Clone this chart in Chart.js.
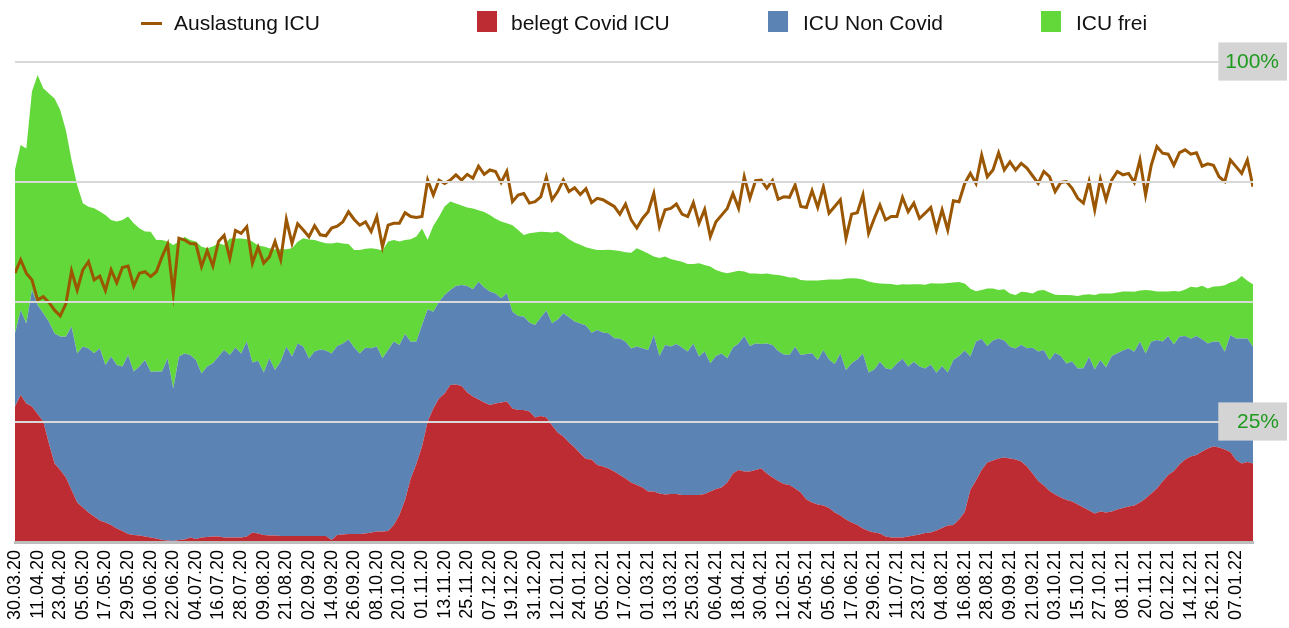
<!DOCTYPE html>
<html><head><meta charset="utf-8">
<script src="https://cdn.jsdelivr.net/npm/chart.js@4.4.1/dist/chart.umd.min.js"></script>
<style>
html,body{margin:0;padding:0;background:#fff;}
#wrap{position:relative;width:1289px;height:628px;overflow:hidden;}
canvas{position:absolute;left:0;top:0;}
.lg{position:absolute;top:11px;font-family:'Liberation Sans',Arial,Helvetica,sans-serif;font-size:21px;color:#111;white-space:nowrap;}
.bx{position:absolute;top:11px;width:20px;height:21px;}
.ln{position:absolute;top:22px;width:21px;height:3px;}
</style></head>
<body><div id="wrap"><canvas id="c" width="1289" height="628"></canvas><div id="legend"></div></div>
<script>
// one data point every 3 days, starting 30.03.20
const STEP_DAYS = 3;

const tickLabels = ['30.03.20','11.04.20','23.04.20','05.05.20','17.05.20','29.05.20','10.06.20','22.06.20','04.07.20','16.07.20','28.07.20','09.08.20','21.08.20','02.09.20','14.09.20','26.09.20','08.10.20','20.10.20','01.11.20','13.11.20','25.11.20','07.12.20','19.12.20','31.12.20','12.01.21','24.01.21','05.02.21','17.02.21','01.03.21','13.03.21','25.03.21','06.04.21','18.04.21','30.04.21','12.05.21','24.05.21','05.06.21','17.06.21','29.06.21','11.07.21','23.07.21','04.08.21','16.08.21','28.08.21','09.09.21','21.09.21','03.10.21','15.10.21','27.10.21','08.11.21','20.11.21','02.12.21','14.12.21','26.12.21','07.01.22'];
const TICK_EVERY_DAYS = 12;

const pctTickLabels = {25: '25%', 100: '100%'};

const seriesNames = ['Auslastung ICU', 'belegt Covid ICU', 'ICU Non Covid', 'ICU frei'];

// Auslastung ICU in %
const auslastung = [
56.0,58.8,56.0,54.6,50.4,51.1,49.9,48.3,47.1,49.6,56.5,52.5,56.7,58.4,54.6,55.4,52.4,56.7,54.0,57.2,57.5,53.3,56.0,56.3,55.3,56.3,59.4,62.0,51.8,63.3,62.9,62.2,62.1,57.4,60.7,57.5,62.6,63.9,
59.1,64.9,64.3,65.7,58.1,61.4,58.1,59.4,62.6,58.8,67.2,62.2,66.3,65.0,63.6,65.9,64.0,63.8,65.4,65.8,66.7,68.8,67.2,66.0,66.7,64.7,67.8,61.5,66.0,66.4,66.4,68.6,67.8,67.6,67.8,75.4,72.3,
75.4,74.7,75.4,76.5,75.4,76.6,75.8,78.3,76.6,77.5,77.2,74.9,77.2,70.9,72.3,72.6,70.6,70.9,71.9,76.0,71.3,73.0,75.4,73.0,73.8,72.4,73.6,70.7,71.6,71.3,70.6,69.9,68.3,70.4,67.1,65.4,67.4,
68.8,72.6,65.7,69.2,69.5,70.4,68.3,67.8,70.7,66.4,69.3,63.6,66.7,68.1,69.5,72.6,69.5,76.1,71.6,75.3,75.4,73.7,75.3,71.4,71.9,71.8,74.4,69.9,69.7,73.2,69.7,74.0,68.5,69.9,71.3,63.3,68.3,
68.6,72.3,64.3,67.4,70.2,67.1,67.8,67.8,71.8,68.8,70.6,67.4,68.5,69.7,65.0,69.2,65.0,71.1,70.9,74.7,76.8,74.7,80.6,76.1,77.5,81.1,77.5,79.2,77.5,78.9,77.9,76.3,74.7,77.2,76.1,73.0,74.9,
75.1,73.7,71.6,70.6,75.1,69.2,75.6,71.3,75.4,77.2,76.5,76.8,74.9,79.6,72.3,78.5,82.4,81.0,80.8,78.5,81.1,81.7,80.8,81.1,78.3,78.8,78.5,76.1,75.1,79.6,78.2,76.8,79.6,74.0];

// beds
const belegtCovid = [
677,735,693,677,640,602,493,393,360,323,260,198,172,148,127,107,98,85,68,55,40,35,32,27,23,17,10,7,5,10,13,22,15,23,25,27,27,23,
23,23,23,27,47,43,35,32,32,30,30,30,30,30,30,30,30,30,10,35,38,40,40,40,43,47,52,52,55,85,135,210,318,390,477,602,668,
718,743,785,788,780,748,727,713,698,685,693,697,702,668,660,660,652,623,630,622,582,548,527,497,472,443,415,413,385,377,367,352,335,318,298,285,272,
252,252,243,238,240,240,235,235,235,235,240,252,265,273,297,343,360,352,353,360,367,343,323,305,290,285,268,248,213,197,187,182,170,147,133,113,97,
85,68,55,48,43,27,23,23,23,27,33,37,45,47,58,70,83,85,113,150,260,307,360,397,407,418,422,418,413,403,377,343,305,282,255,238,223,
210,202,188,172,158,143,152,148,153,162,170,177,183,197,218,243,268,302,335,355,387,413,428,435,452,468,477,473,463,450,410,393,400,393];

const nonCovid = [
367,425,400,583,545,542,608,650,667,703,817,745,805,820,817,862,787,842,817,822,895,817,845,883,828,835,842,912,763,917,930,913,895,820,852,867,900,937,
912,950,920,975,850,863,812,887,828,872,947,897,963,947,888,922,933,927,933,945,955,973,933,903,928,922,925,867,905,917,850,830,683,612,608,562,483,
483,492,475,492,505,532,537,588,575,567,550,522,542,483,470,467,445,462,493,535,512,565,617,627,630,650,667,633,675,670,677,667,682,683,670,692,697,
708,783,687,747,737,750,738,717,758,692,712,642,665,670,622,630,633,678,627,633,623,650,662,650,648,650,708,687,727,747,723,778,743,743,810,747,797,
828,875,792,815,858,842,840,870,893,850,868,840,823,840,788,810,765,825,817,808,668,695,655,583,600,600,585,558,555,583,592,628,647,678,655,708,707,
683,700,680,697,768,720,758,725,777,782,787,792,768,805,725,758,742,700,695,633,640,617,588,595,562,525,525,528,488,585,608,625,618,583];

const frei = [
817,825,875,992,1150,1125,1142,1175,1133,1033,833,842,717,708,725,683,750,683,717,733,692,742,692,642,700,658,658,583,717,575,583,575,592,633,592,583,567,525,
583,545,575,512,605,577,630,550,603,562,487,542,508,542,595,558,538,537,550,517,500,477,487,517,495,500,488,538,542,508,517,470,513,525,483,347,430,
425,442,442,413,397,393,403,358,377,383,373,383,350,433,430,408,447,463,428,393,453,440,392,390,395,393,392,420,400,413,417,440,438,448,478,492,487,
483,392,490,442,438,418,428,438,397,467,433,483,430,407,425,377,363,322,363,350,350,350,352,380,392,388,347,375,367,363,398,350,400,423,370,458,425,
405,370,455,433,392,422,427,392,373,410,388,412,418,407,447,412,447,387,370,335,338,252,245,287,260,242,257,267,267,265,280,272,305,300,337,290,305,
342,332,362,367,313,372,332,370,313,303,295,283,300,255,317,257,243,250,222,267,225,233,260,243,267,275,275,278,333,262,288,312,288,313];

const COLORS = {line: '#9a5600', covid: '#bd2b33', non: '#5b84b5', frei: '#62d83a'};
const FONT = "'Liberation Sans', Arial, Helvetica, sans-serif";

const pts = arr => arr.map((v, i) => ({x: i * STEP_DAYS, y: v}));
const lastDay = (belegtCovid.length - 1) * STEP_DAYS;

Chart.defaults.font.family = FONT;

new Chart(document.getElementById('c'), {
  type: 'line',
  data: {
    datasets: [
      {label: seriesNames[0], data: pts(auslastung), yAxisID: 'yP', borderColor: COLORS.line, backgroundColor: COLORS.line,
       borderWidth: 3, pointRadius: 0, fill: false, tension: 0, order: 0},
      {label: seriesNames[1], data: pts(belegtCovid), yAxisID: 'yB', borderWidth: 0, borderColor: COLORS.covid,
       backgroundColor: COLORS.covid, pointRadius: 0, fill: 'origin', tension: 0, order: 1},
      {label: seriesNames[2], data: pts(nonCovid), yAxisID: 'yB', borderWidth: 0, borderColor: COLORS.non,
       backgroundColor: COLORS.non, pointRadius: 0, fill: '-1', tension: 0, order: 1},
      {label: seriesNames[3], data: pts(frei), yAxisID: 'yB', borderWidth: 0, borderColor: COLORS.frei,
       backgroundColor: COLORS.frei, pointRadius: 0, fill: '-1', tension: 0, order: 1}
    ]
  },
  options: {
    responsive: false,
    animation: false,
    devicePixelRatio: 1,
    layout: {padding: {top: 62, left: 15, right: 10, bottom: 0}},
    plugins: {legend: {display: false}, tooltip: {enabled: false}},
    scales: {
      x: {
        type: 'linear', min: 0, max: lastDay,
        afterBuildTicks: s => { s.ticks = tickLabels.map((_, i) => ({value: i * TICK_EVERY_DAYS})); },
        afterFit: s => { s.height = 86; },
        grid: {display: false, drawTicks: false},
        border: {display: true, color: '#bdbdbd', width: 3, z: 1},
        ticks: {autoSkip: false, maxRotation: 90, minRotation: 90, padding: 8, color: '#000',
                font: {size: 18, family: FONT},
                callback: v => tickLabels[Math.round(v / TICK_EVERY_DAYS)]}
      },
      yB: {type: 'linear', display: false, stacked: true, min: 0, max: 2400, position: 'left'},
      yP: {
        type: 'linear', position: 'right', min: 0, max: 100,
        afterFit: s => { s.width = 26; },
        grid: {drawTicks: false, lineWidth: 2, z: 1,
               color: c => (c.tick && c.tick.value === 0) ? 'rgba(0,0,0,0)' : '#d9d9d9'},
        border: {display: false},
        ticks: {stepSize: 25, mirror: true, crossAlign: 'near', padding: 26, color: '#1f9a1f', z: 2,
                font: {size: 21, family: FONT},
                // pad with a figure space so both label boxes get the same width
                callback: v => pctTickLabels[v] ? pctTickLabels[v].padStart(4, '\u2007') : '',
                showLabelBackdrop: c => !!(c.tick && pctTickLabels[c.tick.value]),
                backdropColor: '#d4d4d4',
                backdropPadding: {top: 7, bottom: 6, left: 7, right: 8}}
      }
    }
  }
});

// HTML legend
(function () {
  const lg = document.getElementById('legend');
  const marks = [[141, 174, 'line', COLORS.line], [477, 511, 'box', COLORS.covid], [768, 803, 'box', COLORS.non], [1041, 1076, 'box', COLORS.frei]];
  marks.forEach((m, i) => {
    const mk = document.createElement('div');
    mk.className = m[2] === 'line' ? 'ln' : 'bx';
    mk.style.left = m[0] + 'px';
    mk.style.background = m[3];
    lg.appendChild(mk);
    const t = document.createElement('div');
    t.className = 'lg';
    t.style.left = m[1] + 'px';
    t.textContent = seriesNames[i];
    lg.appendChild(t);
  });
})();
</script>
</body></html>
